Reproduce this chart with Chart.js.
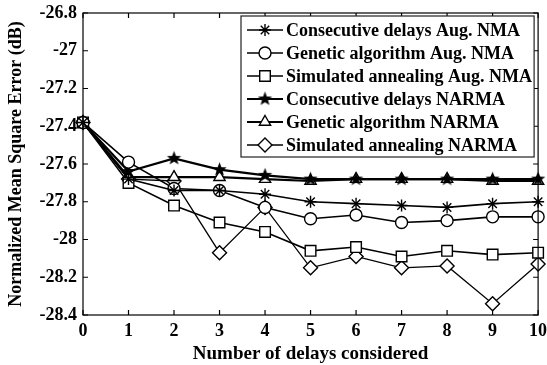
<!DOCTYPE html>
<html>
<head>
<meta charset="utf-8">
<script src="https://cdn.jsdelivr.net/npm/chart.js@4.4.0/dist/chart.umd.min.js"></script>
<style>
  html, body { margin: 0; padding: 0; background: #fff; }
</style>
</head>
<body>
<canvas id="chartNmse" width="547" height="365"></canvas>
<script>
var delays = ['0', '1', '2', '3', '4', '5', '6', '7', '8', '9', '10'];

var consecAugNma = [-27.38, -27.68, -27.74, -27.74, -27.76, -27.80, -27.81, -27.82, -27.83, -27.81, -27.80];
var geneticAugNma = [-27.38, -27.59, -27.73, -27.74, -27.83, -27.89, -27.87, -27.91, -27.90, -27.88, -27.88];
var annealAugNma = [-27.38, -27.70, -27.82, -27.91, -27.96, -28.06, -28.04, -28.09, -28.06, -28.08, -28.07];
var consecNarma = [-27.38, -27.64, -27.57, -27.63, -27.66, -27.68, -27.68, -27.68, -27.68, -27.68, -27.68];
var geneticNarma = [-27.38, -27.67, -27.67, -27.67, -27.68, -27.69, -27.68, -27.68, -27.68, -27.69, -27.69];
var annealNarma = [-27.38, -27.68, -27.69, -28.07, -27.83, -28.15, -28.09, -28.15, -28.14, -28.34, -28.13];

var yTickValues = [-26.8, -27, -27.2, -27.4, -27.6, -27.8, -28, -28.2, -28.4];

var seriesNames = [
  'Consecutive delays Aug. NMA',
  'Genetic algorithm Aug. NMA',
  'Simulated annealing Aug. NMA',
  'Consecutive delays NARMA',
  'Genetic algorithm NARMA',
  'Simulated annealing NARMA'
];

var fontFamily = '"Liberation Serif", "Times New Roman", serif';

// filled five-pointed star marker
function makeStar(r) {
  var c = document.createElement('canvas');
  c.width = c.height = Math.ceil(2 * r + 2);
  var ctx = c.getContext('2d');
  var cx = c.width / 2, cy = c.height / 2;
  ctx.beginPath();
  for (var i = 0; i < 10; i++) {
    var rad = i % 2 === 0 ? r : r * 0.42;
    var a = -Math.PI / 2 + i * Math.PI / 5;
    var px = cx + rad * Math.cos(a), py = cy + rad * Math.sin(a);
    if (i === 0) ctx.moveTo(px, py); else ctx.lineTo(px, py);
  }
  ctx.closePath();
  ctx.fillStyle = '#000';
  ctx.fill();
  return c;
}
var starMarker = makeStar(7.5);

function series(label, data, style, radius, width) {
  return {
    label: label,
    data: data,
    borderColor: '#000',
    borderWidth: width,
    pointStyle: style,
    pointRadius: radius,
    pointBorderColor: '#000',
    pointBorderWidth: 1.4,
    pointBackgroundColor: '#fff',
    tension: 0
  };
}

var datasets = [
  series(seriesNames[0], consecAugNma, 'star', 6, 1.6),
  series(seriesNames[1], geneticAugNma, 'circle', 6, 1.6),
  series(seriesNames[2], annealAugNma, 'rect', 7.5, 1.6),
  series(seriesNames[3], consecNarma, starMarker, 7, 2.2),
  series(seriesNames[4], geneticNarma, 'triangle', 6.5, 2.2),
  series(seriesNames[5], annealNarma, 'rectRot', 7, 1.3)
];

var frameTicks = {
  id: 'frameTicks',
  afterDatasetsDraw: function (chart) {
    var ctx = chart.ctx, a = chart.chartArea;
    var xs = chart.scales.x, ys = chart.scales.y;
    ctx.save();
    ctx.strokeStyle = '#000';
    ctx.lineWidth = 1.2;
    ctx.strokeRect(a.left, a.top, a.right - a.left, a.bottom - a.top);
    ctx.beginPath();
    delays.forEach(function (d, i) {
      var px = xs.getPixelForValue(i);
      ctx.moveTo(px, a.bottom); ctx.lineTo(px, a.bottom - 5);
      ctx.moveTo(px, a.top); ctx.lineTo(px, a.top + 5);
    });
    yTickValues.forEach(function (v) {
      var py = ys.getPixelForValue(v);
      ctx.moveTo(a.left, py); ctx.lineTo(a.left + 5, py);
      ctx.moveTo(a.right, py); ctx.lineTo(a.right - 5, py);
    });
    ctx.stroke();
    ctx.restore();
  }
};

var boxLegend = {
  id: 'boxLegend',
  afterDraw: function (chart) {
    var ctx = chart.ctx, a = chart.chartArea;
    var left = 241, top = 16, right = a.right - 4, rowH = 23;
    var bottom = top + rowH * datasets.length + 3;
    ctx.save();
    ctx.fillStyle = '#fff';
    ctx.fillRect(left, top, right - left, bottom - top);
    ctx.strokeStyle = '#222';
    ctx.lineWidth = 1.2;
    ctx.strokeRect(left, top, right - left, bottom - top);
    ctx.font = 'bold 18px ' + fontFamily;
    ctx.textBaseline = 'middle';
    ctx.textAlign = 'left';
    chart.data.datasets.forEach(function (ds, i) {
      var cy = top + 14 + i * rowH;
      ctx.strokeStyle = '#000';
      ctx.lineWidth = ds.borderWidth;
      ctx.beginPath();
      ctx.moveTo(left + 6, cy);
      ctx.lineTo(left + 42, cy);
      ctx.stroke();
      ctx.fillStyle = '#fff';
      ctx.strokeStyle = '#000';
      ctx.lineWidth = ds.pointBorderWidth;
      Chart.helpers.drawPoint(ctx, {
        pointStyle: ds.pointStyle,
        radius: ds.pointRadius,
        rotation: 0,
        borderWidth: ds.pointBorderWidth
      }, left + 24, cy);
      ctx.fillStyle = '#000';
      ctx.fillText(ds.label, left + 45, cy + 1);
    });
    ctx.restore();
  }
};

function renderNmseChart() {
  var el = document.getElementById('chartNmse');
  if (el) {
    new Chart(el, {
      type: 'line',
      data: { labels: delays, datasets: datasets },
      options: {
        responsive: false,
        animation: false,
        layout: { padding: { top: 13, right: 8, left: 0, bottom: 0 } },
        plugins: {
          legend: { display: false },
          tooltip: { enabled: false }
        },
        scales: {
          x: {
            offset: false,
            grid: { display: false, drawTicks: false },
            border: { display: false },
            ticks: {
              color: '#000',
              padding: 6,
              maxRotation: 0,
              autoSkip: false,
              font: { family: fontFamily, size: 18, weight: 'bold' }
            },
            title: {
              display: true,
              text: 'Number of delays considered',
              color: '#000',
              padding: { top: 0, bottom: 0 },
              font: { family: fontFamily, size: 19, weight: 'bold' }
            },
            afterFit: function (s) {
              s.height = 50;
              s.paddingLeft = 0;
              s.paddingRight = 0;
            }
          },
          y: {
            min: -28.4,
            max: -26.8,
            grid: { display: false, drawTicks: false },
            border: { display: false },
            afterBuildTicks: function (s) {
              s.ticks = yTickValues.map(function (v) { return { value: v }; });
            },
            ticks: {
              color: '#000',
              padding: 6,
              callback: function (v) { return String(parseFloat(v.toFixed(2))); },
              font: { family: fontFamily, size: 18, weight: 'bold' }
            },
            title: {
              display: true,
              text: 'Normalized Mean Square Error (dB)',
              color: '#000',
              padding: { top: 6, bottom: 0 },
              font: { family: fontFamily, size: 18, weight: 'bold' }
            },
            afterFit: function (s) {
              s.width = 83;
              s.paddingTop = 0;
              s.paddingBottom = 0;
            }
          }
        }
      },
      plugins: [frameTicks, boxLegend]
    });
  }
}

renderNmseChart();
</script>
</body>
</html>
